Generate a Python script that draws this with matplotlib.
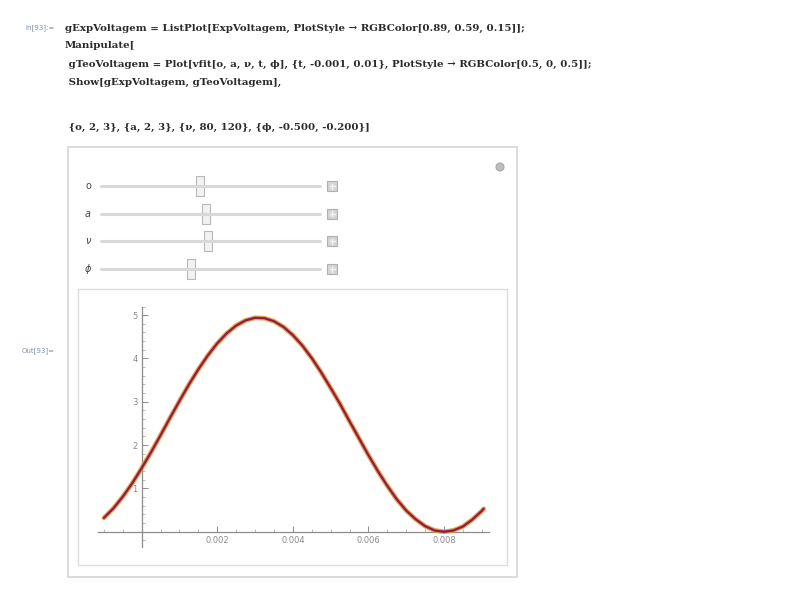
import matplotlib.pyplot as plt
from matplotlib.patches import Rectangle, Circle
from matplotlib.ticker import MultipleLocator, FixedLocator

# sampled voltage curve (time in s, voltage in V)
t_vals = [-0.001, -0.00075, -0.0005, -0.00025, 0.0, 0.00025, 0.0005, 0.00075,
          0.001, 0.00125, 0.0015, 0.00175, 0.002, 0.00225, 0.0025, 0.00275,
          0.003, 0.00325, 0.0035, 0.00375, 0.004, 0.00425, 0.0045, 0.00475,
          0.005, 0.00525, 0.0055, 0.00575, 0.006, 0.00625, 0.0065, 0.00675,
          0.007, 0.00725, 0.0075, 0.00775, 0.008, 0.00825, 0.0085, 0.00875,
          0.009, 0.00905]
v_vals = [0.32, 0.54, 0.81, 1.12, 1.47, 1.84, 2.23, 2.63, 3.02, 3.40, 3.75,
          4.07, 4.35, 4.58, 4.76, 4.88, 4.94, 4.93, 4.86, 4.73, 4.54, 4.30,
          4.01, 3.68, 3.32, 2.95, 2.55, 2.16, 1.77, 1.40, 1.06, 0.75, 0.49,
          0.29, 0.13, 0.03, 0.00, 0.03, 0.12, 0.28, 0.48, 0.53]

x_ticks = [0.002, 0.004, 0.006, 0.008]
x_tick_labels = ['0.002', '0.004', '0.006', '0.008']
y_ticks = [1, 2, 3, 4, 5]

# slider variables and thumb positions along the track (0..1)
slider_names = ['o', 'a', 'ν', 'ϕ']
slider_pos = [0.45, 0.48, 0.49, 0.41]

code_lines = [
    'gExpVoltagem = ListPlot[ExpVoltagem, PlotStyle → RGBColor[0.89, 0.59, 0.15]];',
    'Manipulate[',
    ' gTeoVoltagem = Plot[vfit[o, a, ν, t, ϕ], {t, -0.001, 0.01}, PlotStyle → RGBColor[0.5, 0, 0.5]];',
    ' Show[gExpVoltagem, gTeoVoltagem],',
    '',
    ' {o, 2, 3}, {a, 2, 3}, {ν, 80, 120}, {ϕ, -0.500, -0.200}]',
]
code_y = [28, 46, 64, 82, 0, 127]

code_font = ['DejaVu Serif', 'DejaVu Sans']

fig = plt.figure(figsize=(8, 5.9), dpi=100)
bg = fig.add_axes([0, 0, 1, 1])
bg.set_xlim(0, 800)
bg.set_ylim(590, 0)
bg.axis('off')

# notebook cell labels
bg.text(55, 28, 'In[93]:=', fontsize=5, color='#7d8fa8', ha='right', va='center',
        family='DejaVu Sans')
bg.text(55, 351, 'Out[93]=', fontsize=5, color='#7d8fa8', ha='right', va='center',
        family='DejaVu Sans')

code_texts = []
for line, y in zip(code_lines, code_y):
    if line:
        code_texts.append(bg.text(65, y, line, fontsize=7, family=code_font,
                                  color='#2b2b2b', ha='left', va='center',
                                  fontweight='bold'))

# size the code font so the first line runs to about x=530
renderer = fig.canvas.get_renderer()
w = code_texts[0].get_window_extent(renderer).width
scale = 465.0 / w
for txt in code_texts:
    txt.set_fontsize(7 * scale)

# manipulate panel and inner graphics frame
bg.add_patch(Rectangle((68, 147), 449, 430, fill=False, ec='#d6d6d6', lw=1.2))
bg.add_patch(Rectangle((78, 289), 429, 276, fill=False, ec='#dcdcdc', lw=1.0))
bg.add_patch(Circle((500, 167), 4, fc='#bdbdbd', ec='#a8a8a8', lw=0.8))

track_x0, track_x1 = 101, 320
for i, (name, p) in enumerate(zip(slider_names, slider_pos)):
    y = 186 + i * 27.7
    bg.text(88, y, name, fontsize=7, color='#444444', ha='center', va='center',
            family='DejaVu Sans', style='italic' if name != 'o' else 'normal')
    bg.plot([track_x0, track_x1], [y, y], color='#d9d9d9', lw=2.2,
            solid_capstyle='round')
    tx = track_x0 + p * (track_x1 - track_x0)
    bg.add_patch(Rectangle((tx - 4, y - 10), 8, 20, fc='#f2f2f2', ec='#b9b9b9',
                           lw=0.8))
    bg.add_patch(Rectangle((327, y - 5), 10, 10, fc='#d5d5d5', ec='#b0b0b0',
                           lw=0.8))
    bg.plot([329.5, 334.5], [y, y], color='#f4f4f4', lw=1.0)
    bg.plot([332, 332], [y - 2.5, y + 2.5], color='#f4f4f4', lw=1.0)

# plot area, axes crossing at the origin
ax = fig.add_axes([97.5 / 800, 1 - 546.9 / 590, 391.8 / 800, 240.4 / 590])
ax.set_xlim(-0.00117, 0.0092)
ax.set_ylim(-0.35, 5.2)
ax.patch.set_alpha(0)
for side in ['top', 'right']:
    ax.spines[side].set_visible(False)
ax.spines['left'].set_position(('data', 0))
ax.spines['bottom'].set_position(('data', 0))
for side in ['left', 'bottom']:
    ax.spines[side].set_color('#8c8c8c')
    ax.spines[side].set_linewidth(0.9)

ax.xaxis.set_major_locator(FixedLocator(x_ticks))
ax.set_xticklabels(x_tick_labels)
ax.xaxis.set_minor_locator(MultipleLocator(0.0005))
ax.yaxis.set_major_locator(FixedLocator(y_ticks))
ax.yaxis.set_minor_locator(MultipleLocator(0.2))
ax.tick_params(which='major', direction='in', length=4, width=0.7,
               color='#8c8c8c', labelsize=6, labelcolor='#8a8a8a', pad=3)
ax.tick_params(which='minor', direction='in', length=2, width=0.5,
               color='#a0a0a0')

ax.plot(t_vals, v_vals, color=(0.89, 0.59, 0.15), lw=3.4, alpha=0.85,
        solid_capstyle='round', zorder=3)
ax.plot(t_vals, v_vals, color=(0.5, 0, 0.5), lw=1.6, alpha=0.8,
        solid_capstyle='round', zorder=4)
ax.plot(t_vals, v_vals, color=(0.55, 0.1, 0.12), lw=1.2, alpha=0.6,
        zorder=5)

fig.savefig('out.png', dpi=100)
